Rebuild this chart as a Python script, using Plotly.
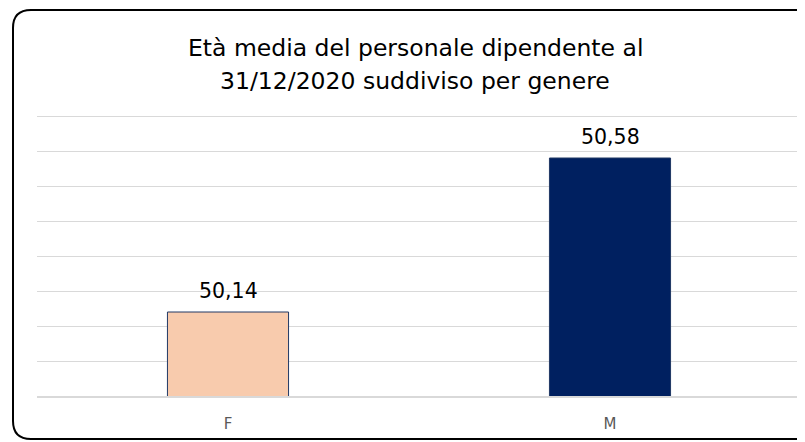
import plotly.graph_objects as go

# Età media per genere al 31/12/2020
generi = ["F", "M"]
eta_media = [50.14, 50.58]
colori = ["#F8CBAD", "#002060"]
titolo = ["Età media del personale dipendente al", "31/12/2020 suddiviso per genere"]

# the page puts the figure 8px in from the top-left corner
OFF = 8
EXTRA = 4  # spare pixels above the top gridline so plotly keeps it
W, H = 805 - OFF, 442 - OFF
ML, MR, MT, MB = 37 - OFF, 4, 116 - OFF - EXTRA, 46
PW, PH = W - ML - MR, H - MT - MB
Y0, Y1 = 49.9, 50.7
YTOP = Y1 + EXTRA * (Y1 - Y0) / (PH - EXTRA)


def px(x, y):
    # screen pixel -> paper coordinates
    return (x - OFF - ML) / PW, (H - MB - (y - OFF)) / PH


fig = go.Figure()
fig.add_trace(go.Bar(
    x=generi,
    y=eta_media,
    marker=dict(color=colori, line=dict(color="#203864", width=1)),
    hoverinfo="x+y",
))

for g, v in zip(generi, eta_media):
    fig.add_annotation(
        x=g, y=v, text=f"{v:.2f}".replace(".", ","),
        showarrow=False, yanchor="bottom", yshift=7,
        font=dict(family="DejaVu Sans", size=20.5, color="#000000"),
    )

# two-line title
for riga, ypix in zip(titolo, [48, 81]):
    tx, ty = px(415, ypix)
    fig.add_annotation(
        x=tx, y=ty, xref="paper", yref="paper", text=riga,
        showarrow=False, xanchor="center", yanchor="middle",
        font=dict(family="DejaVu Sans", size=23.5, color="#000000"),
    )

# rounded frame around the chart
l, t, r, b, rad = 13, 10, 820, 439, 18
pts = [
    ("M", l, b - rad), ("L", l, t + rad), ("Q", l, t, l + rad, t), ("L", r, t),
    ("L", r, b), ("L", l + rad, b), ("Q", l, b, l, b - rad),
]
path = ""
for p in pts:
    cmd, coords = p[0], p[1:]
    s = []
    for i in range(0, len(coords), 2):
        a, c = px(coords[i], coords[i + 1])
        s.append(f"{a:.5f},{c:.5f}")
    path += cmd + " ".join(s) + " "
fig.add_shape(type="path", path=path + "Z", xref="paper", yref="paper",
              line=dict(color="#000000", width=2), layer="above")

fig.update_layout(
    width=W, height=H,
    margin=dict(l=ML, r=MR, t=MT, b=MB),
    paper_bgcolor="white", plot_bgcolor="white",
    showlegend=False,
    bargap=0.683,
    font=dict(family="DejaVu Sans"),
    xaxis=dict(
        showline=True, linecolor="#D9D9D9", linewidth=1.5,
        ticks="", ticklabelstandoff=13,
        tickfont=dict(family="DejaVu Sans", size=15, color="#595959"),
        showgrid=False,
    ),
    yaxis=dict(
        range=[Y0, YTOP], tick0=Y0, dtick=0.1,
        showgrid=True, gridcolor="#D9D9D9", gridwidth=1,
        showticklabels=False, zeroline=False, showline=False,
    ),
)

fig.write_html("out.html")
